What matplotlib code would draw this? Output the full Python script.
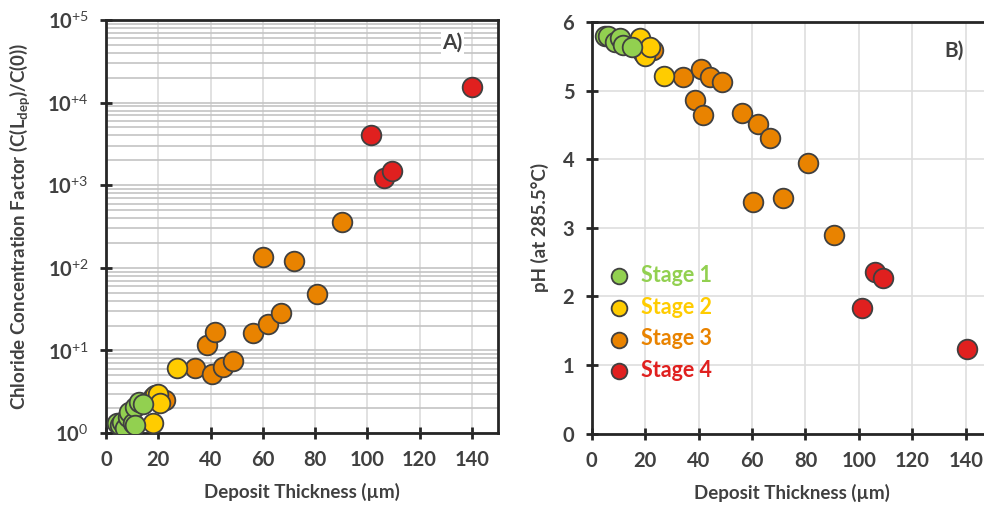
import numpy as np
import matplotlib
matplotlib.use('Agg')
import matplotlib.pyplot as plt
from matplotlib.ticker import FixedLocator, FixedFormatter

plt.rcParams['font.family'] = ['Lato', 'DejaVu Sans']
plt.rcParams['mathtext.fontset'] = 'custom'
plt.rcParams['mathtext.rm'] = 'Lato'
plt.rcParams['mathtext.bf'] = 'Lato:bold'

# Stage colours
stage_labels = ['Stage 1', 'Stage 2', 'Stage 3', 'Stage 4']
stage_colors = ['#92d050', '#ffcc00', '#e98300', '#e0201f']

# Panel A: chloride concentration factor vs deposit thickness (um)
a_x = [
    [4.1, 5.4, 6.0, 7.3, 8.5, 8.9, 10.5, 11.1, 11.1, 12.8, 14.3],
    [18.1, 18.8, 20.0, 20.7, 18.1, 27.1],
    [22.6, 34.2, 38.5, 40.6, 41.7, 44.7, 48.5, 56.2, 60.2, 62.1, 66.9, 72.0, 80.8, 90.5],
    [101.5, 106.2, 109.4, 140.0],
]
a_y = [
    [1.31, 1.25, 1.37, 1.14, 1.57, 1.81, 1.31, 2.08, 1.25, 2.39, 2.24],
    [2.75, 2.88, 3.0, 2.29, 1.31, 6.2],
    [2.5, 6.2, 11.6, 5.18, 16.8, 6.35, 7.5, 16.1, 136, 20.9, 28.1, 121, 47.8, 358],
    [4100, 1210, 1480, 15500],
]

# Panel B: pH (at 285.5 C) vs deposit thickness (um)
b_x = [
    [5.0, 6.2, 8.7, 10.6, 11.8, 15.0],
    [18.1, 19.3, 20.0, 21.8, 27.1],
    [23.1, 34.1, 38.7, 40.8, 41.5, 44.3, 48.8, 56.2, 60.3, 62.4, 66.8, 71.7, 80.9, 90.8],
    [101.3, 106.1, 108.9, 140.4],
]
b_y = [
    [5.80, 5.79, 5.71, 5.76, 5.67, 5.64],
    [5.76, 5.55, 5.50, 5.64, 5.21],
    [5.59, 5.20, 4.86, 5.31, 4.64, 5.20, 5.12, 4.67, 3.37, 4.51, 4.31, 3.43, 3.94, 2.90],
    [1.83, 2.36, 2.27, 1.23],
]

x_ticks = [0, 20, 40, 60, 80, 100, 120, 140]
a_yticks = [1, 10, 100, 1e3, 1e4, 1e5]
a_yticklabels = ['10$^{0}$', '10$^{+1}$', '10$^{+2}$', '10$^{+3}$', '10$^{+4}$', '10$^{+5}$']
b_yticks = [0, 1, 2, 3, 4, 5, 6]

txt = '#404040'
fig = plt.figure(figsize=(9.84, 5.05), dpi=100)
ax_a = fig.add_axes([0.1077, 0.1426, 0.3984, 0.8178])
ax_b = fig.add_axes([0.6013, 0.1412, 0.4072, 0.8152])


def style_axes(ax):
    for s in ax.spines.values():
        s.set_color('#262626')
        s.set_linewidth(2)
    ax.tick_params(which='major', direction='inout', length=9, width=2,
                   color='#262626', labelsize=14.5, labelcolor=txt, pad=8)
    ax.tick_params(which='minor', length=0)
    for lab in ax.get_xticklabels() + ax.get_yticklabels():
        lab.set_fontweight('bold')
    ax.set_axisbelow(True)


# Panel A
ax_a.set_yscale('log')
ax_a.set_xlim(0, 150)
ax_a.set_ylim(1, 1e5)
ax_a.set_xticks(x_ticks)
ax_a.yaxis.set_major_locator(FixedLocator(a_yticks))
ax_a.yaxis.set_major_formatter(FixedFormatter(a_yticklabels))
minors = [m * 10**k for k in range(0, 5) for m in range(2, 10)]
ax_a.yaxis.set_minor_locator(FixedLocator(minors))
ax_a.grid(True, axis='x', color='#dcdcdc', lw=1.2)
ax_a.grid(True, axis='y', which='both', color='#c4c4c4', lw=1.2)
for i in [3, 2, 1, 0]:
    ax_a.scatter(a_x[i], a_y[i], s=200, color=stage_colors[i], edgecolor='#404040',
                 linewidth=1.3, zorder=3)
ax_a.set_xlabel('Deposit Thickness (µm)', fontsize=13.5, fontweight='bold', color=txt, labelpad=9)
ax_a.set_ylabel('Chloride Concentration Factor (C(L$_{\\mathbf{dep}}$)/C(0))', fontsize=13.5,
                fontweight='bold', color=txt, labelpad=10)
ax_a.text(0.883, 0.945, 'A)', transform=ax_a.transAxes, fontsize=15, fontweight='bold',
          color=txt, ha='center', va='center',
          bbox=dict(facecolor='white', edgecolor='none', pad=1))
style_axes(ax_a)

# Panel B
ax_b.set_xlim(0, 150)
ax_b.set_ylim(0, 6)
ax_b.set_xticks(x_ticks)
ax_b.set_yticks(b_yticks)
ax_b.grid(True, color='#dedede', lw=1.2)
handles = []
for i in [3, 2, 1, 0]:
    h = ax_b.scatter(b_x[i], b_y[i], s=200, color=stage_colors[i], edgecolor='#404040',
                     linewidth=1.3, zorder=3, label=stage_labels[i])
    handles.append(h)
handles = handles[::-1]
leg = ax_b.legend(handles, stage_labels, loc='upper left', bbox_to_anchor=(-0.022, 0.447),
                  frameon=False, handletextpad=0.0, labelspacing=0.5, borderaxespad=0.3,
                  prop={'size': 15.5, 'weight': 'bold'}, markerscale=0.8)
for t, c in zip(leg.get_texts(), stage_colors):
    t.set_color(c)
ax_b.set_xlabel('Deposit Thickness (µm)', fontsize=13.5, fontweight='bold', color=txt, labelpad=9)
ax_b.set_ylabel('pH (at 285.5°C)', fontsize=13.5, fontweight='bold', color=txt, labelpad=10)
ax_b.text(0.905, 0.93, 'B)', transform=ax_b.transAxes, fontsize=15, fontweight='bold',
          color=txt, ha='center', va='center')
style_axes(ax_b)

fig.savefig('out.png', dpi=100)
